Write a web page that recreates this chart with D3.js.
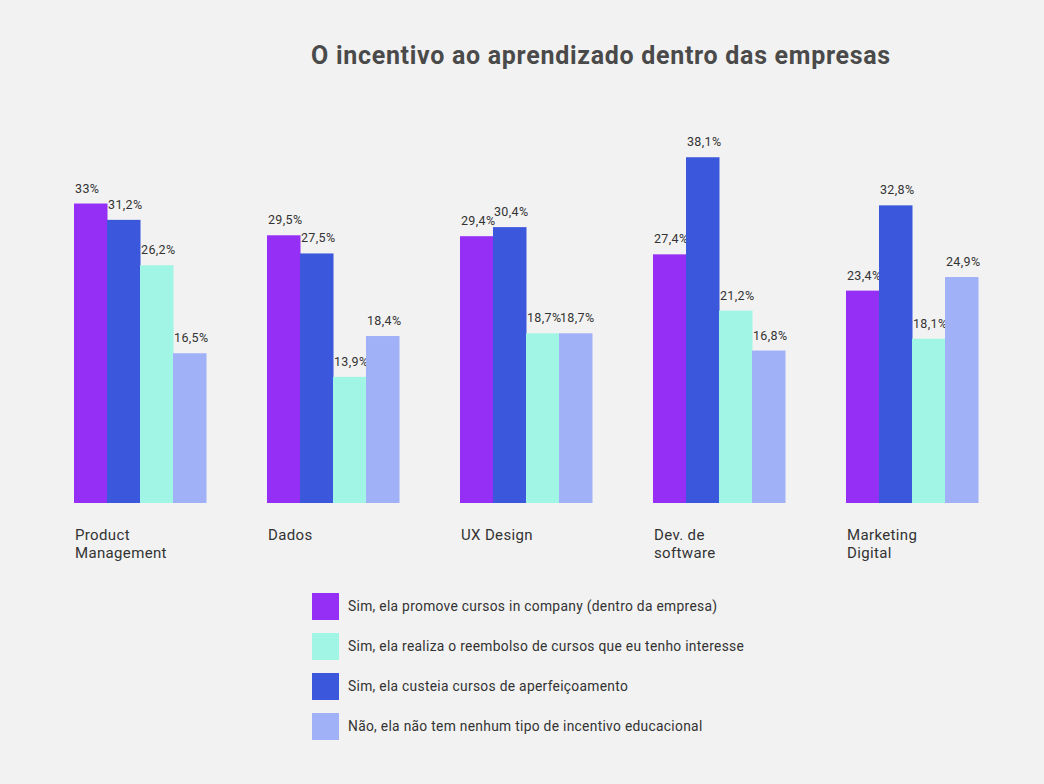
<!DOCTYPE html>
<html><head><meta charset="utf-8">
<script src="https://cdn.jsdelivr.net/npm/d3@7"></script>
<style>
html,body{margin:0;padding:0;background:#f2f2f2;}
svg{display:block;font-family:Roboto,"Noto Sans",sans-serif;}
</style></head>
<body><svg id="c" width="1044" height="784"></svg>
<script>
const categories = ["Product Management","Dados","UX Design","Dev. de software","Marketing Digital"];
const categoryLines = [["Product","Management"],["Dados"],["UX Design"],["Dev. de","software"],["Marketing","Digital"]];
const seriesKeys = ["promove","custeia","reembolso","nao"];
const seriesNames = {
  promove:"Sim, ela promove cursos in company (dentro da empresa)",
  reembolso:"Sim, ela realiza o reembolso de cursos que eu tenho interesse",
  custeia:"Sim, ela custeia cursos de aperfeiçoamento",
  nao:"Não, ela não tem nenhum tipo de incentivo educacional"
};
const legendOrder = ["promove","reembolso","custeia","nao"];
const promove   = [33, 29.5, 29.4, 27.4, 23.4];
const custeia   = [31.2, 27.5, 30.4, 38.1, 32.8];
const reembolso = [26.2, 13.9, 18.7, 21.2, 18.1];
const nao       = [16.5, 18.4, 18.7, 16.8, 24.9];
const seriesValues = {promove, custeia, reembolso, nao};
const colors = {promove:"#952ff6", custeia:"#3b58dc", reembolso:"#a0f5e4", nao:"#a0b1f8"};

const svg = d3.select("#c");
svg.append("rect").attr("width",1044).attr("height",784).attr("fill","#f2f2f2");

svg.append("text").attr("x",601).attr("y",64).attr("text-anchor","middle")
  .attr("font-size",25).attr("font-weight",700).attr("fill","#4a4a4a")
  .attr("letter-spacing",0.7)
  .text("O incentivo ao aprendizado dentro das empresas");

const x0 = d3.scaleBand().domain(categories).range([74,978]).paddingInner(0.316).paddingOuter(0);
const x1 = d3.scaleBand().domain(seriesKeys).range([0,x0.bandwidth()]).padding(0);
const y = d3.scaleLinear().domain([0,40]).range([503,140]);

const fmt = v => String(v).replace(".",",") + "%";

const g = svg.append("g");
categories.forEach((c,i)=>{
  const gg = g.append("g").attr("transform",`translate(${x0(c)},0)`);
  seriesKeys.forEach(k=>{
    const v = seriesValues[k][i];
    gg.append("rect").attr("x",x1(k)).attr("y",y(v)).attr("width",x1.bandwidth()+0.5)
      .attr("height",y(0)-y(v)).attr("fill",colors[k]);
    gg.append("text").attr("x",x1(k)+1).attr("y",y(v)-11).attr("font-size",12.5)
      .attr("letter-spacing",0.35).attr("fill","#333").text(fmt(v));
  });
  const t = gg.append("text").attr("x",1).attr("y",540).attr("font-size",15)
    .attr("letter-spacing",0.35).attr("fill","#333");
  categoryLines[i].forEach((ln,j)=>{
    t.append("tspan").attr("x",1).attr("dy",j===0?0:18).text(ln);
  });
});

const lg = svg.append("g");
legendOrder.forEach((k,i)=>{
  const yy = 593 + i*40;
  lg.append("rect").attr("x",312).attr("y",yy).attr("width",27).attr("height",27).attr("fill",colors[k]);
  lg.append("text").attr("x",348).attr("y",yy+18).attr("font-size",13.8)
    .attr("letter-spacing",0.3).attr("fill","#333").text(seriesNames[k]);
});
</script></body></html>
